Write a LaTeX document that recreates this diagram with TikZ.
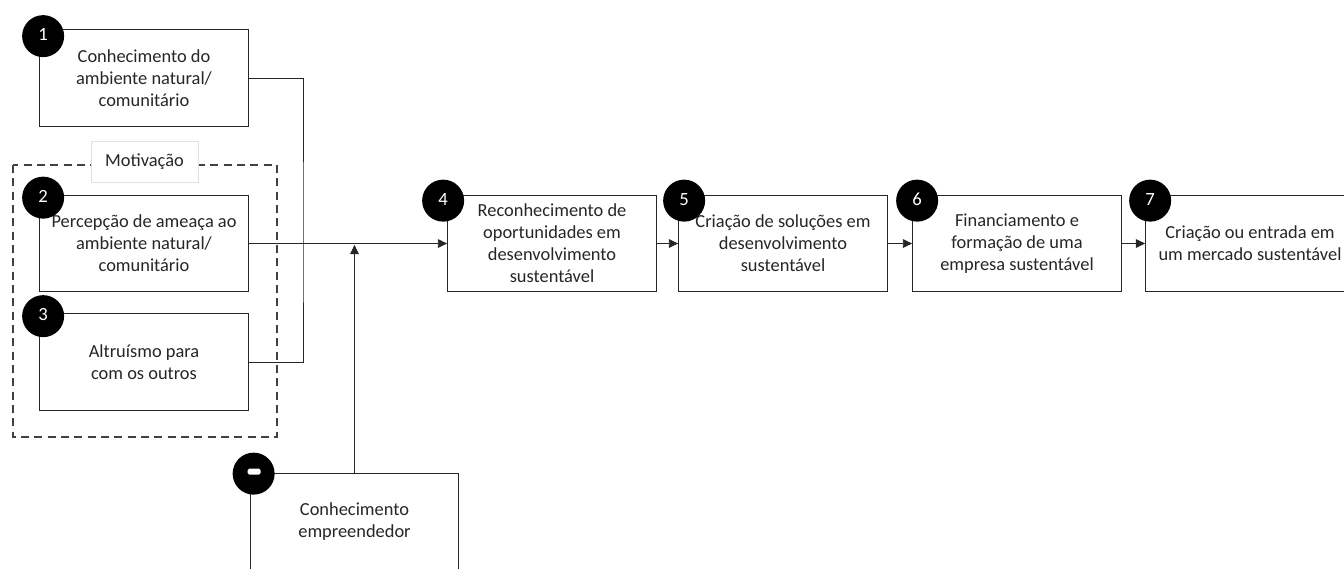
\documentclass[tikz,border=0pt]{standalone}
\usepackage{fontspec}
\setmainfont{Carlito}
\usetikzlibrary{arrows.meta}
\usetikzlibrary{positioning}
\usetikzlibrary{calc}

\tikzset{
  stepbox/.style={draw=black!85, line width=0.8pt, fill=white, minimum width=156.5pt, minimum height=72.5pt,
    align=center, inner sep=0pt, text=black!85, font=\fontsize{13.8}{16.5}\selectfont},
  numdot/.style={circle, fill=black, minimum size=31.5pt, inner sep=0pt, text=white,
    font=\fontsize{14}{15}\selectfont},
  flow/.style={-{Triangle[length=7pt,width=6.5pt]}, line width=0.7pt, black!85},
  link/.style={line width=0.7pt, black!85},
  motivframe/.style={dashed, dash pattern=on 6pt off 4pt, line width=0.8pt, black!75},
}

\begin{document}
\begin{tikzpicture}[x=0.75pt, y=-0.75pt]
	\useasboundingbox (0,0) rectangle (1344,568);
	\clip (0,0) rectangle (1344,568);
	
	% motivation frame
	\draw[motivframe] (13,165) rectangle (277,437);
	\node[draw=black!12, fill=white, minimum width=80pt, minimum height=31pt, inner sep=0pt,
		text=black!85, font=\fontsize{13.8}{16.5}\selectfont] (motiv) at (144.5,161.5) {Motivação};
	
	% boxes
	\node[stepbox] (b1) at (144,78) {Conhecimento do\\ambiente natural/\\comunitário};
	\node[stepbox] (b2) at (144,243.5) {Percepção de ameaça ao\\ambiente natural/\\comunitário};
	\node[stepbox] (b3) at (144,362) {Altruísmo para\\com os outros};
	\node[stepbox] (b4) at (552,243.5) {Reconhecimento de\\oportunidades em\\desenvolvimento\\sustentável};
	\node[stepbox] (b5) at (783,243.5) {Criação de soluções em\\desenvolvimento\\sustentável};
	\node[stepbox] (b6) at (1017,243.5) {Financiamento e\\formação de uma\\empresa sustentável};
	\node[stepbox] (b7) at (1250,243.5) {Criação ou entrada em\\um mercado sustentável};
	\node[stepbox] (ent) at (354.5,522) {Conhecimento\\empreendedor};
	
	% numbers
	\node[numdot] (n1) at ($(b1.north west)+(4,7)$) {\raisebox{2pt}{1}};
	\node[numdot] (n2) at ($(b2.north west)+(4,3)$) {\raisebox{2pt}{2}};
	\node[numdot] (n3) at ($(b3.north west)+(4,3)$) {\raisebox{2pt}{3}};
	\node[numdot] (n4) at ($(b4.north west)+(-4,6)$) {\raisebox{2pt}{4}};
	\node[numdot] (n5) at ($(b5.north west)+(6,6)$) {\raisebox{2pt}{5}};
	\node[numdot] (n6) at ($(b6.north west)+(5,6)$) {\raisebox{2pt}{6}};
	\node[numdot] (n7) at ($(b7.north west)+(5,6)$) {\raisebox{2pt}{7}};
	\node[numdot] (n0) at ($(ent.north west)+(4,0.5)$) {};
	\fill[white, rounded corners=1.2pt] ($(n0)+(-6,-5)$) rectangle ($(n0)+(7,1)$);
	
	% connectors
	\coordinate (join) at (303,244);
	\draw[link] (b1.east) -| (join) |- (b3.east);
	\draw[flow] (b2.east) -- (b4.west);
	\draw[flow, shorten >=1pt] (ent.north) -- (ent.north |- b2.east);
	\draw[flow] (b4) -- (b5);
	\draw[flow] (b5) -- (b6);
	\draw[flow] (b6) -- (b7);
\end{tikzpicture}
\end{document}
